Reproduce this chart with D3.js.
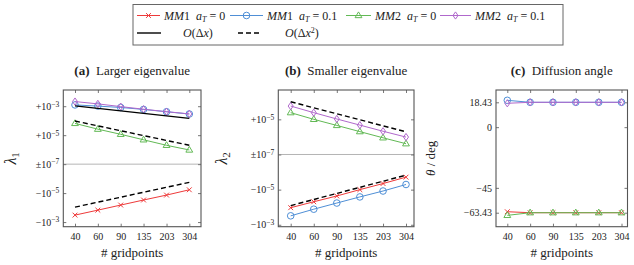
<!DOCTYPE html>
<html><head><meta charset="utf-8">
<script src="https://cdn.jsdelivr.net/npm/d3@7"></script>
<style>
html,body{margin:0;padding:0;background:#fff;}
text{font-family:"Liberation Serif","DejaVu Serif",serif;fill:#222;}
</style></head>
<body>
<svg id="chart" width="634" height="265"></svg>
<script>
// ---------------- data ----------------
const gridpoints = [40, 60, 90, 135, 203, 304];
const refX = [40, 304];

// (a) larger eigenvalue
const a_MM1_0   = [-3.3e-4, -1.5e-4, -6.7e-5, -3.0e-5, -1.37e-5, -5.9e-6];
const a_MM1_01  = [1.23e-3, 1.02e-3, 8.2e-4, 6.0e-4, 4.15e-4, 2.9e-4];
const a_MM2_0   = [6.5e-5, 2.6e-5, 1.15e-5, 4.8e-6, 2.0e-6, 9.5e-7];
const a_MM2_01  = [2.1e-3, 1.45e-3, 9.4e-4, 6.2e-4, 4.2e-4, 2.95e-4];
const a_ref1    = [1.05e-3, 1.45e-4];
const a_ref2pos = [9.5e-5, 2.0e-6];
const a_ref2neg = [-9.3e-5, -1.8e-6];
const a_ticks   = [1e-3, 1e-5, 0, -1e-5, -1e-3];
const a_tickLabels = [["+10","−3"],["+10","−5"],["±10","−7"],["−10","−5"],["−10","−3"]];

// (b) smaller eigenvalue
const b_MM1_0   = [-1.07e-4, -4.9e-5, -2.3e-5, -1.0e-5, -4.5e-6, -1.95e-6];
const b_MM1_01  = [-3.1e-4, -1.3e-4, -5.8e-5, -2.6e-5, -1.2e-5, -5.1e-6];
const b_MM2_0   = [2.4e-5, 1.0e-5, 4.5e-6, 2.0e-6, 8.9e-7, 4.1e-7];
const b_MM2_01  = [5.7e-5, 2.4e-5, 1.05e-5, 4.7e-6, 2.1e-6, 9.8e-7];
const b_ref2pos = [1.0e-4, 1.95e-6];
const b_ref2neg = [-8.1e-5, -1.5e-6];
const b_ticks   = [1e-5, 0, -1e-5, -1e-3];
const b_tickLabels = [["+10","−5"],["±10","−7"],["−10","−5"],["−10","−3"]];

// (c) diffusion angle
const c_MM1_0   = [-62.7, -63.43, -63.43, -63.43, -63.43, -63.43];
const c_MM1_01  = [19.9, 18.43, 18.43, 18.43, 18.43, 18.43];
const c_MM2_0   = [-65.4, -63.43, -63.43, -63.43, -63.43, -63.43];
const c_MM2_01  = [17.7, 18.43, 18.43, 18.43, 18.43, 18.43];
const c_ticks   = [18.43, 0, -45, -63.43];
const c_tickLabels = ["18.43", "0", "−45", "−63.43"];

const seriesNames = ["MM1 0", "MM1 0.1", "MM2 0", "MM2 0.1"];

// ---------------- style ----------------
const colors = {"MM1 0":"#ee3a3a", "MM1 0.1":"#4f8fd6", "MM2 0":"#62b955", "MM2 0.1":"#b068cc"};
const markers = {"MM1 0":"x", "MM1 0.1":"o", "MM2 0":"tri", "MM2 0.1":"dia"};
const frameColor = "#555";

const svg = d3.select("#chart");

function drawMarker(g, type, x, y, color){
  if(type==="x"){
    const s=2.4;
    g.append("path").attr("d",`M${x-s},${y-s}L${x+s},${y+s}M${x-s},${y+s}L${x+s},${y-s}`)
      .attr("stroke",color).attr("stroke-width",1).attr("fill","none");
  } else if(type==="o"){
    g.append("circle").attr("cx",x).attr("cy",y).attr("r",3.3)
      .attr("stroke",color).attr("stroke-width",1).attr("fill","none");
  } else if(type==="tri"){
    const s=3.6;
    g.append("path").attr("d",`M${x},${y-s}L${x+s*0.95},${y+s*0.6}L${x-s*0.95},${y+s*0.6}Z`)
      .attr("stroke",color).attr("stroke-width",1).attr("fill","none");
  } else if(type==="dia"){
    const s=3.6;
    g.append("path").attr("d",`M${x},${y-s}L${x+s*0.7},${y}L${x},${y+s}L${x-s*0.7},${y}Z`)
      .attr("stroke",color).attr("stroke-width",1).attr("fill","none");
  }
}

const symT = v => v>0 ? Math.log10(v)+7 : (v<0 ? -(Math.log10(-v)+7) : 0);

function panel(cfg){
  const g = svg.append("g");
  const {left,right,top,bottom} = cfg.box;
  const x = d3.scaleLog().domain([40,304]).range(cfg.xr);
  const ylin = d3.scaleLinear().domain(cfg.tdom).range([bottom, top]);
  const yv = cfg.sym ? (v => ylin(symT(v))) : (v => ylin(v));
  const tickT = cfg.sym ? cfg.ticks.map(symT) : cfg.ticks;

  if(cfg.sym){
    g.append("line").attr("x1",left).attr("x2",right).attr("y1",ylin(0)).attr("y2",ylin(0))
      .attr("stroke","#b5b5b5").attr("stroke-width",1);
  }

  const fmtX = d => String(d);
  const xb = g.append("g").attr("transform",`translate(0,${bottom})`)
    .call(d3.axisBottom(x).tickValues(gridpoints).tickFormat(fmtX).tickSize(-3).tickPadding(6));
  const xt = g.append("g").attr("transform",`translate(0,${top})`)
    .call(d3.axisTop(x).tickValues(gridpoints).tickFormat("").tickSize(-3));
  const yl = g.append("g").attr("transform",`translate(${left},0)`)
    .call(d3.axisLeft(ylin).tickValues(tickT).tickFormat("").tickSize(-3).tickPadding(4));
  const yr = g.append("g").attr("transform",`translate(${right},0)`)
    .call(d3.axisRight(ylin).tickValues(tickT).tickFormat("").tickSize(-3));
  [xb,xt,yl,yr].forEach(a=>{
    a.attr("font-family",null);
    a.select(".domain").remove();
    a.selectAll(".tick line").attr("stroke","#777");
  });
  xb.selectAll(".tick text").attr("font-size",10).attr("fill","#222");

  yl.selectAll(".tick").each(function(d,i){
    const t = d3.select(this).select("text")
      .attr("font-size",10).attr("fill","#222")
      .attr("x",-4).attr("dy","0.32em");
    const lab = cfg.labels[i];
    if(Array.isArray(lab)){
      t.append("tspan").text(lab[0]);
      t.append("tspan").attr("font-size",7.5).attr("dy","-0.45em").text(lab[1]);
    } else {
      t.text(lab);
    }
  });

  g.append("rect").attr("x",left).attr("y",top).attr("width",right-left).attr("height",bottom-top)
    .attr("fill","none").attr("stroke",frameColor).attr("stroke-width",1.1);

  const line = d3.line().x(d=>x(d[0])).y(d=>yv(d[1]));
  cfg.series.forEach((vals,k)=>{
    const name = seriesNames[k];
    const pts = gridpoints.map((gp,i)=>[gp, vals[i]]);
    g.append("path").attr("d",line(pts)).attr("fill","none")
      .attr("stroke",colors[name]).attr("stroke-width",1);
    pts.forEach(p=>drawMarker(g, markers[name], x(p[0]), yv(p[1]), colors[name]));
  });
  (cfg.refs||[]).forEach(r=>{
    const pts = refX.map((gp,i)=>[gp, r.vals[i]]);
    g.append("path").attr("d",line(pts)).attr("fill","none")
      .attr("stroke","#000").attr("stroke-width",1.4)
      .attr("stroke-dasharray", r.dash ? "5,3" : null);
  });

  const cx = (left+right)/2;
  const tt = g.append("text").attr("x",cfg.titleX||cx).attr("y",74.5).attr("text-anchor","middle").attr("font-size",13);
  tt.append("tspan").attr("font-weight","bold").text(cfg.tag);
  tt.append("tspan").text("\u2002" + cfg.title);

  g.append("text").attr("x",cx).attr("y",257).attr("text-anchor","middle").attr("font-size",13).text("# gridpoints");

  const ylab = g.append("text").attr("transform",`translate(${cfg.ylabX},${(top+bottom)/2}) rotate(-90)`)
    .attr("text-anchor","middle");
  cfg.ylabel(ylab);
}

const box = {top:90, bottom:226.7};

panel({
  box:{left:63.3,right:201,...box}, xr:[75,189.3], sym:true, tdom:[-4.32,5.12],
  ticks:a_ticks, labels:a_tickLabels,
  series:[a_MM1_0,a_MM1_01,a_MM2_0,a_MM2_01],
  refs:[{vals:a_ref1,dash:false},{vals:a_ref2pos,dash:true},{vals:a_ref2neg,dash:true}],
  tag:"(a)", title:"Larger eigenvalue", ylabX:16,
  ylabel:t=>{t.append("tspan").attr("font-size",16).attr("font-style","italic").text("λ");
             t.append("tspan").attr("font-size",11).attr("dy","0.3em").text("1");}
});
panel({
  box:{left:278.3,right:414,...box}, xr:[290.7,406], sym:true, tdom:[-4.11,3.67],
  ticks:b_ticks, labels:b_tickLabels,
  series:[b_MM1_0,b_MM1_01,b_MM2_0,b_MM2_01],
  refs:[{vals:b_ref2pos,dash:true},{vals:b_ref2neg,dash:true}],
  tag:"(b)", title:"Smaller eigenvalue", ylabX:227,
  ylabel:t=>{t.append("tspan").attr("font-size",16).attr("font-style","italic").text("λ");
             t.append("tspan").attr("font-size",11).attr("dy","0.3em").text("2");}
});
panel({
  box:{left:496,right:627.5,...box}, xr:[507.3,621.5], sym:false, tdom:[-73.8,27.55],
  ticks:c_ticks, labels:c_tickLabels,
  series:[c_MM1_0,c_MM1_01,c_MM2_0,c_MM2_01],
  refs:[],
  tag:"(c)", title:"Diffusion angle", ylabX:435,
  ylabel:t=>{t.attr("font-size",13);
             t.append("tspan").attr("font-style","italic").text("θ");
             t.append("tspan").text(" / deg");}
});

// ---------------- legend ----------------
const lg = svg.append("g");
lg.append("rect").attr("x",133).attr("y",4.5).attr("width",430).attr("height",40.5)
  .attr("fill","#fff").attr("stroke","#666").attr("stroke-width",1);
const legendRow1 = [
  {name:"MM1 0", x0:137, tx:164, mm:"MM1", a:"0"},
  {name:"MM1 0.1", x0:230, tx:267, mm:"MM1", a:"0.1"},
  {name:"MM2 0", x0:346, tx:375, mm:"MM2", a:"0"},
  {name:"MM2 0.1", x0:440, tx:475, mm:"MM2", a:"0.1"}
];
legendRow1.forEach(e=>{
  const y=15.5;
  lg.append("line").attr("x1",e.x0).attr("x2",e.x0+(e.tx-e.x0-4)).attr("y1",y).attr("y2",y)
    .attr("stroke",colors[e.name]).attr("stroke-width",1);
  drawMarker(lg, markers[e.name], e.x0+(e.tx-e.x0-4)/2, y, colors[e.name]);
  const t = lg.append("text").attr("x",e.tx).attr("y",19.5).attr("font-size",12);
  t.append("tspan").attr("font-style","italic").text(e.mm.slice(0,2));
  t.append("tspan").text(e.mm.slice(2));
  t.append("tspan").attr("font-style","italic").text("\u2002a");
  t.append("tspan").attr("font-style","italic").attr("font-size",8).attr("dy","2.5").text("T");
  t.append("tspan").attr("dy","-2.5").text(" = " + e.a);
});
lg.append("line").attr("x1",137).attr("x2",161).attr("y1",33).attr("y2",33).attr("stroke","#000").attr("stroke-width",1.4);
const t1 = lg.append("text").attr("x",183).attr("y",37).attr("font-size",12);
t1.append("tspan").attr("font-style","italic").text("O");
t1.append("tspan").text("(Δ");
t1.append("tspan").attr("font-style","italic").text("x");
t1.append("tspan").text(")");
lg.append("line").attr("x1",238).attr("x2",261).attr("y1",33).attr("y2",33).attr("stroke","#000").attr("stroke-width",1.4).attr("stroke-dasharray","5,3");
const t2 = lg.append("text").attr("x",285).attr("y",37).attr("font-size",12);
t2.append("tspan").attr("font-style","italic").text("O");
t2.append("tspan").text("(Δ");
t2.append("tspan").attr("font-style","italic").text("x");
t2.append("tspan").attr("font-size",8).attr("dy","-4.5").text("2");
t2.append("tspan").attr("dy","4.5").text(")");
</script>
</body></html>
